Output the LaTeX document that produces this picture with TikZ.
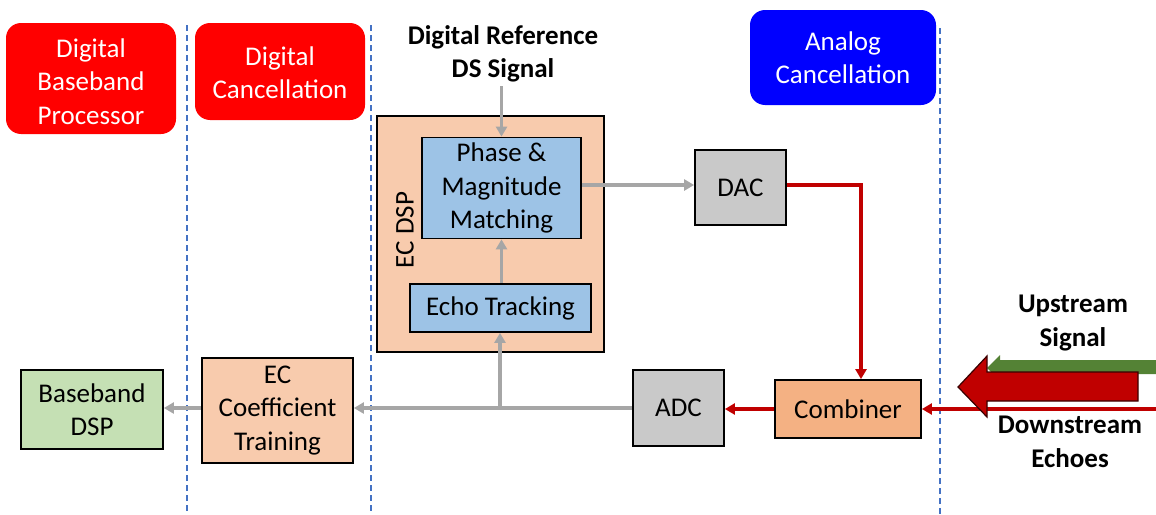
\documentclass[tikz,border=0pt]{standalone}
\usepackage{fontspec}
\setmainfont{Carlito}
\usetikzlibrary{arrows.meta}
\definecolor{hdrred}{HTML}{FF0000}
\definecolor{hdrblue}{HTML}{0000FF}
\definecolor{peach}{HTML}{F8CBAD}
\definecolor{peachdark}{HTML}{F4B183}
\definecolor{ltblue}{HTML}{9DC3E6}
\definecolor{ltgray}{HTML}{C9C9C9}
\definecolor{ltgreen}{HTML}{C5E0B4}
\definecolor{arrgray}{HTML}{A6A6A6}
\definecolor{darkred}{HTML}{C00000}
\definecolor{dkgreen}{HTML}{548235}
\definecolor{dashblue}{HTML}{4472C4}
\begin{document}
\begin{tikzpicture}[x=1pt,y=-1pt,
  txt/.style={font=\fontsize{27}{33.5}\selectfont, align=center},
  blk/.style={txt, draw=black, line width=1.8pt, inner sep=0pt},
  hdr/.style={txt, text=white, rounded corners=15pt, inner sep=0pt},
  garr/.style={draw=arrgray, line width=3.2pt, -{Triangle[length=10pt,width=11pt]}},
  rarr/.style={draw=darkred, line width=3.2pt, -{Triangle[length=10pt,width=11pt]}},
  sep/.style={draw=dashblue, line width=1.4pt, dash pattern=on 6pt off 4pt}]
\useasboundingbox (0,0) rectangle (1156,514);

% separators
\coordinate (s1t) at (187,25); \coordinate (s1b) at (187,514);
\coordinate (s2t) at (371,25); \coordinate (s2b) at (371,514);
\coordinate (s3t) at (940,28); \coordinate (s3b) at (940,514);
\draw[sep] (s1t) -- (s1b);
\draw[sep] (s2t) -- (s2b);
\draw[sep] (s3t) -- (s3b);

% headers
\node[hdr, fill=hdrred, minimum width=170pt, minimum height=111pt] (h1) at (91,78.5) {};
\node[txt, text=white] at (91,81.5) {Digital\\Baseband\\Processor};
\node[hdr, fill=hdrred, minimum width=170pt, minimum height=97pt] (h2) at (280,71.5) {};
\node[txt, text=white] at (280,72.5) {Digital\\Cancellation};
\node[hdr, fill=hdrblue, minimum width=186pt, minimum height=95pt] (h3) at (843,57.5) {Analog\\Cancellation};

\node[txt, font=\fontsize{27}{33.5}\selectfont\bfseries] (ref) at (503,54) {Digital Reference\\DS Signal};

% EC DSP block
\node[blk, fill=peach, minimum width=227pt, minimum height=236pt] (ecdsp) at (490.5,234) {};
\node[txt, rotate=90] (eclabel) at (405,230) {EC DSP};
\node[blk, fill=ltblue, minimum width=159pt, minimum height=101pt] (phase) at (501.5,188) {Phase \&\\Magnitude\\Matching};
\node[blk, fill=ltblue, minimum width=181pt, minimum height=48pt] (echo) at (500.5,308) {Echo Tracking};

\node[blk, fill=ltgray, minimum width=91pt, minimum height=75pt] (dac) at (740.5,187.5) {DAC};
\node[blk, fill=ltgray, minimum width=91pt, minimum height=76pt] (adc) at (678.5,408) {ADC};
\node[blk, fill=peachdark, minimum width=146pt, minimum height=58pt] (comb) at (848,409) {Combiner};
\node[blk, fill=peach, minimum width=151pt, minimum height=105pt] (ect) at (277.5,410.5) {EC\\Coefficient\\Training};
\node[blk, fill=ltgreen, minimum width=142pt, minimum height=79pt] (bb) at (92,409.5) {Baseband\\DSP};

% connectors
\draw[garr] (phase.north |- 0,86) -- (phase.north);
\draw[garr] (phase.east |- 0,185) -- (dac.west |- 0,185);
\draw[garr] (echo.north -| phase.south) -- (phase.south);
\draw[rarr] (dac.east |- 0,185) -| (comb.north -| 861,0);
\draw[rarr] (comb.west) -- (adc.east |- comb.west);
\coordinate (rin) at (1156,409);
\draw[rarr] (rin) -- (comb.east);
\coordinate (br) at (500,408);
\draw[garr] (adc.west) -- (ect.east |- adc.west);
\draw[garr] (br) -- (echo.south -| br);
\draw[garr] (ect.west |- 0,408) -- (bb.east |- 0,408);

% big arrows
\fill[dkgreen] (987,368) -- (1000,355) -- (1000,360) -- (1156,360) -- (1156,374) -- (1000,374) -- (1000,381) -- cycle;
\filldraw[fill=darkred, draw=black!70!darkred, line width=1.2pt] (958,387) -- (987,356) -- (987,372) -- (1138,372) -- (1138,401) -- (987,401) -- (987,417) -- cycle;

\node[txt, font=\fontsize{27}{33.5}\selectfont\bfseries] (up) at (1073,323) {Upstream\\Signal};
\node[txt, font=\fontsize{27}{33.5}\selectfont\bfseries] (down) at (1070,442) {Downstream\\Echoes};
\end{tikzpicture}
\end{document}
